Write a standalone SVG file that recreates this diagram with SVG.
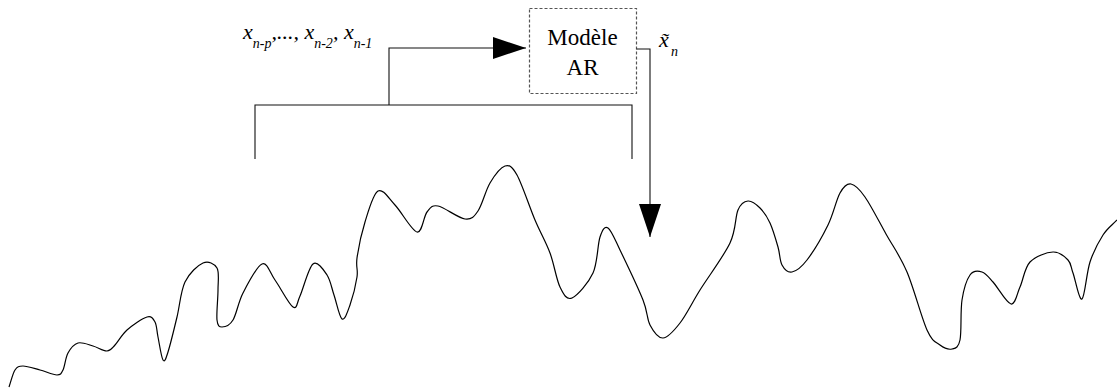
<svg xmlns="http://www.w3.org/2000/svg" width="1117" height="391" viewBox="0 0 1117 391">
<style>
.ln{fill:none;stroke:#111;stroke-width:1.1}
.wave{fill:none;stroke:#000;stroke-width:1.2;stroke-linejoin:round}
.box{fill:#fff;stroke:#555;stroke-width:1.2;stroke-dasharray:3,2}
.rm{font-family:"Liberation Serif","Times New Roman",Times,serif;font-size:23px;fill:#000}
.it{font-family:"Liberation Serif","Times New Roman",Times,serif;font-style:italic;font-size:22px;fill:#000}
.sub{font-size:14px}
</style>
<defs>
<marker id="ah" markerUnits="userSpaceOnUse" markerWidth="34" markerHeight="23" refX="33" refY="11" orient="auto" viewBox="0 0 34 23">
<path d="M0,0 L33,11 L0,22 z" fill="#000"/>
</marker>
</defs>
<g id="signal">
<path class="wave" d="M9,387 C11,381.3 12.7,373.5 15,370 C17.3,366.5 18.8,366 23,366 C27.2,366 34.3,368.5 40,370 C45.7,371.5 53.2,375 57,375 C60.8,375 61.2,373.7 63,370 C64.8,366.3 65.5,357.5 68,353 C70.5,348.5 73.8,344.2 78,343 C82.2,341.8 88.2,344.7 93,346 C97.8,347.3 103.3,351.2 107,351 C110.7,350.8 111.7,348.5 115,345 C118.3,341.5 121.7,334.7 127,330 C132.3,325.3 142.3,318.3 147,317 C151.7,315.7 153.2,318.7 155,322 C156.8,325.3 156.7,330.7 158,337 C159.3,343.3 161.3,357.5 163,360 C164.7,362.5 165.7,359.2 168,352 C170.3,344.8 174.2,328.7 177,317 C179.8,305.3 180.7,291 185,282 C189.3,273 197.7,265.3 203,263 C208.3,260.7 214.5,263.5 217,268 C219.5,272.5 218,281.3 218,290 C218,298.7 216.3,313.8 217,320 C217.7,326.2 219.3,327 222,327 C224.7,327 229.5,325.7 233,320 C236.5,314.3 238.2,302.3 243,293 C247.8,283.7 256.7,266.2 262,264 C267.3,261.8 269.8,272.8 275,280 C280.2,287.2 288.8,304.3 293,307 C297.2,309.7 296.7,303.2 300,296 C303.3,288.8 308.5,267.5 313,264 C317.5,260.5 323.5,269.8 327,275 C330.5,280.2 331.5,287.7 334,295 C336.5,302.3 339.3,317.3 342,319 C344.7,320.7 347.5,312 350,305 C352.5,298 355.8,284.8 357,277 C358.2,269.2 355.7,267.2 357,258 C358.3,248.8 361.5,233.2 365,222 C368.5,210.8 373,193.8 378,191 C383,188.2 388.5,198.2 395,205 C401.5,211.8 411.7,230.8 417,232 C422.3,233.2 423.5,216.3 427,212 C430.5,207.7 431.7,204.8 438,206 C444.3,207.2 458.3,218.2 465,219 C471.7,219.8 473.8,217 478,211 C482.2,205 485.5,190.5 490,183 C494.5,175.5 500.5,167.3 505,166 C509.5,164.7 512,166 517,175 C522,184 529.5,207 535,220 C540.5,233 545.8,241.8 550,253 C554.2,264.2 556.3,279.5 560,287 C563.7,294.5 566.5,300.3 572,298 C577.5,295.7 588.3,283.2 593,273 C597.7,262.8 597.5,244.5 600,237 C602.5,229.5 604.7,225.8 608,228 C611.3,230.2 614.2,238 620,250 C625.8,262 638,287.5 643,300 C648,312.5 646.7,318.7 650,325 C653.3,331.3 658,338.3 663,338 C668,337.7 673.8,331 680,323 C686.2,315 691.7,303.3 700,290 C708.3,276.7 723.7,256.3 730,243 C736.3,229.7 735,217 738,210 C741,203 744.3,201.3 748,201 C751.7,200.7 756.3,204.3 760,208 C763.7,211.7 767,216.5 770,223 C773,229.5 776,240 778,247 C780,254 779.7,260.8 782,265 C784.3,269.2 787.8,272.8 792,272 C796.2,271.2 801,267.8 807,260 C813,252.2 822.5,236.2 828,225 C833.5,213.8 836.2,199.8 840,193 C843.8,186.2 846.8,183.3 851,184 C855.2,184.7 859.2,188.7 865,197 C870.8,205.3 879,221.5 886,234 C893,246.5 900.2,256 907,272 C913.8,288 921.5,317.8 927,330 C932.5,342.2 935.8,341.8 940,345 C944.2,348.2 948.7,349.8 952,349 C955.3,348.2 958.3,348.2 960,340 C961.7,331.8 960.3,310.8 962,300 C963.7,289.2 966.7,279.7 970,275 C973.3,270.3 978.2,270.8 982,272 C985.8,273.2 988.2,276.7 993,282 C997.8,287.3 1006.5,303.2 1011,304 C1015.5,304.8 1016.8,294 1020,287 C1023.2,280 1024.5,267.8 1030,262 C1035.5,256.2 1046.7,252.3 1053,252 C1059.3,251.7 1064.7,256.5 1068,260 C1071.3,263.5 1070.7,266.5 1073,273 C1075.3,279.5 1079.2,300.8 1082,299 C1084.8,297.2 1086.5,272.7 1090,262 C1093.5,251.3 1098.5,242 1103,235 C1107.5,228 1112.3,225 1117,220"/>
</g>
<g id="window">
<path class="ln" d="M255,159 V105 H632 V159"/>
</g>
<g id="model">
<rect class="box" x="529.5" y="8.5" width="107" height="85"/>
<text class="rm" x="582.5" y="45" text-anchor="middle">Modèle</text>
<text class="rm" x="582.5" y="75" text-anchor="middle">AR</text>
</g>
<g id="input-label">
<text class="it" x="243" y="39">x<tspan class="sub" dy="9">n-p</tspan><tspan dy="-9">,..., x</tspan><tspan class="sub" dy="9">n-2</tspan><tspan dy="-9">, x</tspan><tspan class="sub" dy="9">n-1</tspan></text>
</g>
<g id="output-label">
<text class="it" x="659" y="47">x&#771;<tspan class="sub" x="671" y="56">n</tspan></text>
</g>
<g id="connectors">
<path class="ln" d="M389,105 V48 H526" marker-end="url(#ah)"/>
<path class="ln" d="M636.5,49 H650 V237" marker-end="url(#ah)"/>
</g>
</svg>
